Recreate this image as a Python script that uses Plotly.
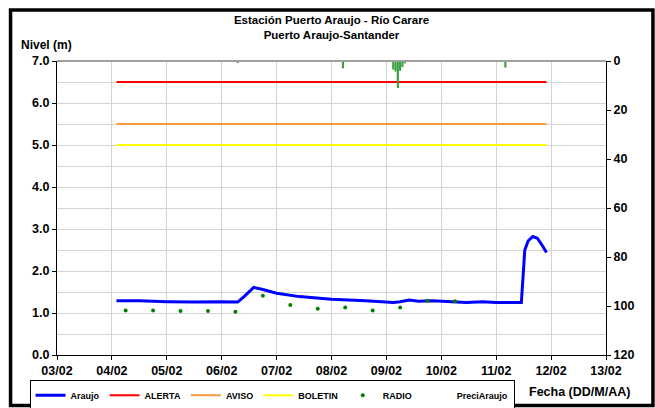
import plotly.graph_objects as go

# nivel Araujo (m)
araujo_t = ["2011-02-04 02:00", "2011-02-04 12:00", "2011-02-05 00:00", "2011-02-05 12:00",
            "2011-02-06 00:00", "2011-02-06 06:00", "2011-02-06 07:00", "2011-02-06 10:00",
            "2011-02-06 14:00", "2011-02-06 18:00", "2011-02-07 00:00", "2011-02-07 10:00",
            "2011-02-08 00:00", "2011-02-08 15:00", "2011-02-09 03:00", "2011-02-09 06:00",
            "2011-02-09 10:00", "2011-02-09 14:00", "2011-02-09 20:00", "2011-02-10 11:00",
            "2011-02-10 18:00", "2011-02-11 00:00", "2011-02-11 11:00", "2011-02-11 12:30",
            "2011-02-11 14:00", "2011-02-11 16:00", "2011-02-11 18:00", "2011-02-11 20:00",
            "2011-02-11 22:00"]
araujo_v = [1.29, 1.29, 1.27, 1.26, 1.27, 1.27, 1.26, 1.40, 1.61, 1.56, 1.47, 1.39, 1.33,
            1.29, 1.25, 1.27, 1.31, 1.28, 1.29, 1.25, 1.27, 1.25, 1.25, 2.50, 2.72, 2.82,
            2.78, 2.62, 2.44]

# lecturas por radio
radio_t = ["2011-02-04 06:00", "2011-02-04 18:00", "2011-02-05 06:00", "2011-02-05 18:00",
           "2011-02-06 06:00", "2011-02-06 18:00", "2011-02-07 06:00", "2011-02-07 18:00",
           "2011-02-08 06:00", "2011-02-08 18:00", "2011-02-09 06:00", "2011-02-09 18:00",
           "2011-02-10 06:00"]
radio_v = [1.06, 1.06, 1.05, 1.05, 1.03, 1.41, 1.19, 1.10, 1.13, 1.06, 1.13, 1.29, 1.28]

# umbrales
umbral_t = ["2011-02-04 02:00", "2011-02-11 22:00"]
alerta = [6.5, 6.5]
aviso = [5.5, 5.5]
boletin = [5.0, 5.0]

# precipitacion (mm)
preci_t = ["2011-02-05 07:00", "2011-02-06 07:00", "2011-02-08 05:00", "2011-02-09 03:00",
           "2011-02-09 04:00", "2011-02-09 05:00", "2011-02-09 06:00", "2011-02-09 07:00",
           "2011-02-09 08:00", "2011-02-11 04:00"]
preci_v = [0.4, 0.5, 3.0, 3.5, 4.3, 11.0, 4.0, 2.5, 1.0, 2.7]

FONT = "Liberation Sans, Arial, sans-serif"
TICKFONT = dict(size=12.5, weight="bold")

fig = go.Figure()
fig.add_trace(go.Bar(x=preci_t, y=preci_v, yaxis="y2", marker_color="#3a9e3a",
                     marker_line_width=0, width=3300000, showlegend=False))
fig.add_trace(go.Scatter(x=araujo_t, y=araujo_v, mode="lines", name="Araujo",
                         line=dict(color="#0000ff", width=3)))
fig.add_trace(go.Scatter(x=umbral_t, y=alerta, mode="lines", name="ALERTA",
                         line=dict(color="#ff0000", width=2)))
fig.add_trace(go.Scatter(x=umbral_t, y=aviso, mode="lines", name="AVISO",
                         line=dict(color="#f79a3a", width=2)))
fig.add_trace(go.Scatter(x=umbral_t, y=boletin, mode="lines", name="BOLETIN",
                         line=dict(color="#ffff00", width=2)))
fig.add_trace(go.Scatter(x=radio_t, y=radio_v, mode="markers", name="RADIO",
                         marker=dict(color="#008000", size=4)))
# entrada de leyenda sin simbolo para la precipitacion
fig.add_trace(go.Scatter(x=[None], y=[None], mode="lines", name="PreciAraujo",
                         line=dict(color="rgba(0,0,0,0)", width=0)))

fig.update_layout(
    width=655, height=408,
    margin=dict(l=56.5, r=48.5, t=61, b=53, autoexpand=False),
    paper_bgcolor="white", plot_bgcolor="white",
    font=dict(family=FONT, size=11, color="black"),
    title=dict(text="<b>Estación Puerto Araujo - Río Carare<br>Puerto Araujo-Santander</b>",
               x=0.5, xref="paper", y=0.941, yanchor="top",
               font=dict(size=11.5, family=FONT)),
    xaxis=dict(type="date", range=["2011-02-03", "2011-02-13"], dtick=86400000,
               tickformat="%d/%m", showgrid=True, gridcolor="#d4d4d4", gridwidth=1,
               showline=True, linecolor="black", linewidth=1, ticks="outside", ticklen=4,
               tickcolor="black", tickfont=TICKFONT, mirror=False, zeroline=False),
    yaxis=dict(range=[0, 7], dtick=1, tickformat=".1f", showgrid=True, gridcolor="#d4d4d4",
               minor=dict(dtick=0.5, showgrid=True, gridcolor="#d4d4d4"),
               showline=True, linecolor="black", linewidth=1, ticks="outside", ticklen=4,
               tickcolor="black", tickfont=TICKFONT, zeroline=False),
    yaxis2=dict(overlaying="y", side="right", range=[120, 0], dtick=20, showgrid=False,
                showline=True, linecolor="black", linewidth=1, ticks="outside", ticklen=4,
                tickcolor="black", tickfont=TICKFONT, zeroline=False),
    legend=dict(orientation="h", x=-0.05, y=-0.084, xanchor="left", yanchor="top",
                bordercolor="black", borderwidth=1, bgcolor="white",
                font=dict(size=9, weight="bold"), itemwidth=30, tracegroupgap=0),
    showlegend=True,
)

# borde superior gris
fig.add_shape(type="line", xref="paper", yref="paper", x0=0, x1=1, y0=1, y1=1,
              line=dict(color="#a0a0a0", width=2))
# marco exterior
fig.add_shape(type="rect", xref="paper", yref="paper", x0=-0.0846, x1=1.0855,
              y0=-0.1718, y1=1.1735, line=dict(color="black", width=3.5))

fig.add_annotation(text="<b>Nivel (m)</b>", xref="paper", yref="paper", x=-0.07, y=1.054,
                   xanchor="left", yanchor="middle", showarrow=False, font=dict(size=12))
fig.add_annotation(text="<b>Fecha (DD/M/AA)</b>", xref="paper", yref="paper", x=1.047,
                   y=-0.126, xanchor="right", yanchor="middle", showarrow=False,
                   font=dict(size=12.5))

# quitar el margen de 8px del body para que la figura quede en (0,0)
fig.write_html("out.html", config={"displayModeBar": False},
               post_script="document.body.style.margin='0';document.body.style.overflow='hidden';")
